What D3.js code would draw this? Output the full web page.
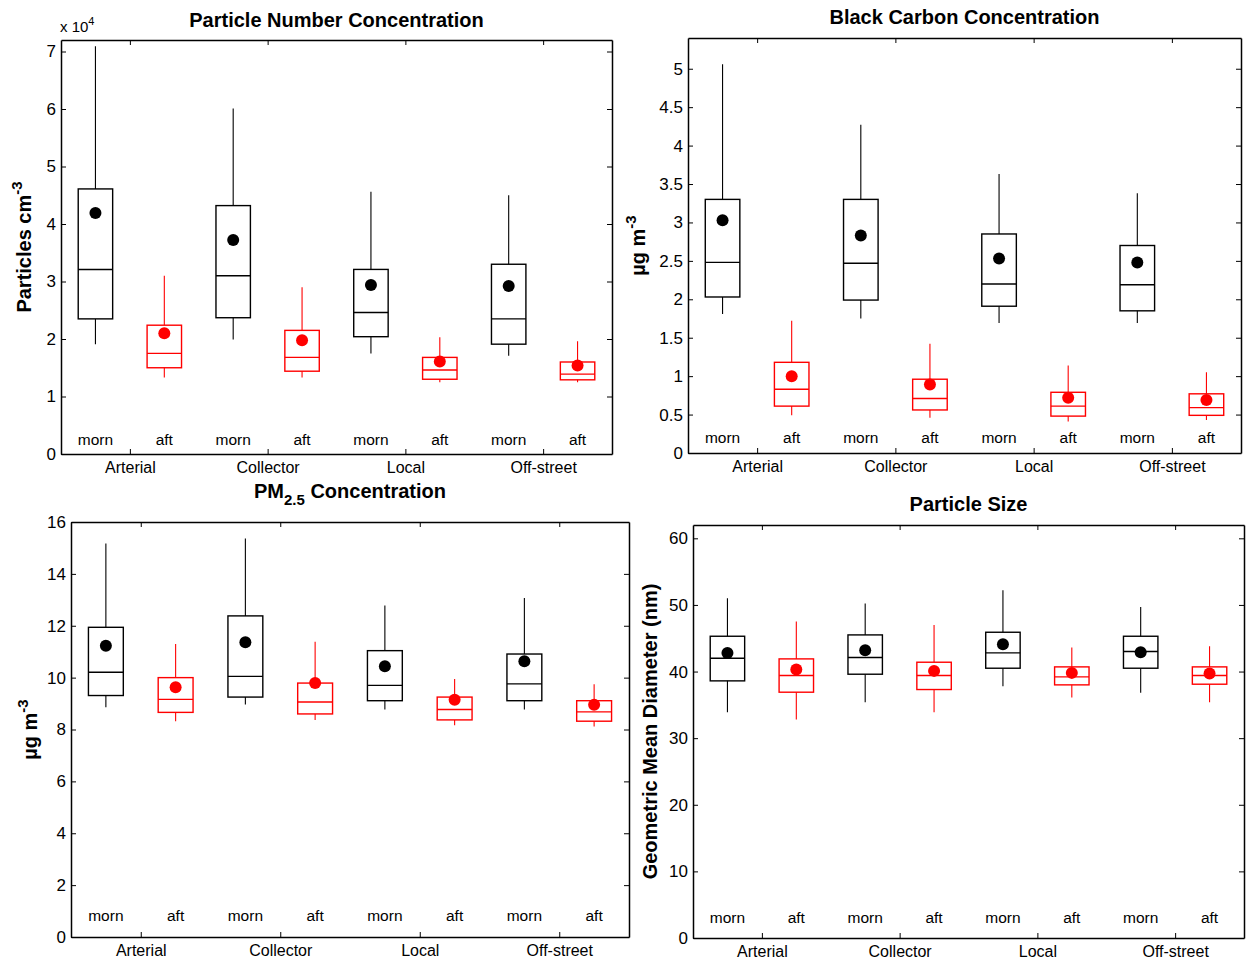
<!DOCTYPE html>
<html>
<head>
<meta charset="utf-8">
<script src="https://cdn.jsdelivr.net/npm/d3@7"></script>
<style>
body { margin: 0; background: #fff; }
svg { display: block; font-family: "Liberation Sans", Arial, sans-serif; }
</style>
</head>
<body>
<svg id="chart" width="1247" height="960"></svg>
<script>
// categories and periods, boxes go morn/aft per category
const categories = ["Arterial", "Collector", "Local", "Off-street"];
const periods = ["morn", "aft"];

// Particle number concentration (x 10^4)
const pncHigh = [7.09, 3.10, 6.01, 2.90, 4.56, 2.03, 4.50, 1.96];
const pncQ3   = [4.61, 2.24, 4.32, 2.15, 3.21, 1.68, 3.30, 1.60];
const pncMed  = [3.21, 1.75, 3.10, 1.68, 2.46, 1.46, 2.35, 1.39];
const pncQ1   = [2.35, 1.50, 2.37, 1.44, 2.04, 1.30, 1.91, 1.29];
const pncLow  = [1.91, 1.33, 1.99, 1.33, 1.75, 1.25, 1.71, 1.25];
const pncMean = [4.19, 2.10, 3.72, 1.98, 2.94, 1.61, 2.92, 1.54];
const pncTicks = [0, 1, 2, 3, 4, 5, 6, 7];

// Black carbon (ug m-3)
const bcHigh = [5.06, 1.72, 4.27, 1.42, 3.63, 1.14, 3.38, 1.05];
const bcQ3   = [3.30, 1.18, 3.30, 0.96, 2.85, 0.79, 2.70, 0.77];
const bcMed  = [2.48, 0.83, 2.47, 0.71, 2.20, 0.61, 2.19, 0.59];
const bcQ1   = [2.03, 0.61, 1.99, 0.56, 1.91, 0.48, 1.85, 0.49];
const bcLow  = [1.81, 0.49, 1.75, 0.46, 1.69, 0.41, 1.69, 0.43];
const bcMean = [3.03, 1.00, 2.83, 0.89, 2.53, 0.72, 2.48, 0.69];
const bcTicks = [0, 0.5, 1, 1.5, 2, 2.5, 3, 3.5, 4, 4.5, 5];

// PM2.5 (ug m-3)
const pmHigh = [15.17, 11.30, 15.36, 11.38, 12.78, 9.95, 13.07, 9.74];
const pmQ3   = [11.94, 10.00, 12.38, 9.79, 11.04, 9.25, 10.91, 9.11];
const pmMed  = [10.21, 9.16, 10.05, 9.06, 9.70, 8.77, 9.76, 8.68];
const pmQ1   = [9.31, 8.66, 9.25, 8.60, 9.11, 8.37, 9.11, 8.32];
const pmLow  = [8.86, 8.32, 8.96, 8.37, 8.77, 8.16, 8.77, 8.12];
const pmMean = [11.23, 9.63, 11.36, 9.79, 10.44, 9.15, 10.63, 8.95];
const pmTicks = [0, 2, 4, 6, 8, 10, 12, 14, 16];

// Particle size, geometric mean diameter (nm)
const gmdHigh = [51.0, 47.5, 50.2, 47.0, 52.2, 43.6, 49.7, 43.8];
const gmdQ3   = [45.3, 41.9, 45.5, 41.4, 45.9, 40.7, 45.3, 40.7];
const gmdMed  = [42.0, 39.4, 42.1, 39.4, 42.8, 39.2, 43.0, 39.4];
const gmdQ1   = [38.6, 36.9, 39.6, 37.3, 40.5, 38.0, 40.5, 38.1];
const gmdLow  = [33.9, 32.8, 35.4, 33.9, 37.8, 36.1, 36.8, 35.4];
const gmdMean = [42.8, 40.3, 43.2, 40.1, 44.1, 39.8, 42.9, 39.7];
const gmdTicks = [0, 10, 20, 30, 40, 50, 60];

const svg = d3.select("#chart");
const colors = { morn: "#000", aft: "#ff0000" };

function drawPanel(p) {
  var x = d3.scaleLinear().domain([0.5, 8.5]).range([p.left, p.right]);
  var y = d3.scaleLinear().domain([0, p.ymax]).range([p.bottom, p.top]);
  var g = svg.append("g");

  var boxes = p.med.map(function (m, i) {
    return {
      pos: i + 1, period: periods[i % 2],
      low: p.low[i], q1: p.q1[i], med: m, q3: p.q3[i], high: p.high[i], mean: p.mean[i]
    };
  });

  var bw = 0.25; // half box width in x units
  var b = g.selectAll(".box").data(boxes).enter().append("g")
    .attr("stroke", function (d) { return colors[d.period]; })
    .attr("fill", "none");
  // whiskers
  b.append("line").attr("x1", d => x(d.pos)).attr("x2", d => x(d.pos))
    .attr("y1", d => y(d.q3)).attr("y2", d => y(d.high)).attr("stroke-width", 1.1);
  b.append("line").attr("x1", d => x(d.pos)).attr("x2", d => x(d.pos))
    .attr("y1", d => y(d.q1)).attr("y2", d => y(d.low)).attr("stroke-width", 1.1);
  // box
  b.append("rect")
    .attr("x", d => x(d.pos - bw)).attr("width", d => x(d.pos + bw) - x(d.pos - bw))
    .attr("y", d => y(d.q3)).attr("height", d => y(d.q1) - y(d.q3))
    .attr("stroke-width", 1.4);
  // median
  b.append("line").attr("x1", d => x(d.pos - bw)).attr("x2", d => x(d.pos + bw))
    .attr("y1", d => y(d.med)).attr("y2", d => y(d.med)).attr("stroke-width", 1.4);
  // mean dot
  b.append("circle").attr("cx", d => x(d.pos)).attr("cy", d => y(d.mean)).attr("r", 6)
    .attr("stroke", "none").attr("fill", d => colors[d.period]);

  // morn / aft labels inside the plot
  g.selectAll(".per").data(boxes).enter().append("text")
    .attr("x", d => x(d.pos)).attr("y", p.bottom - p.perOff)
    .attr("text-anchor", "middle").attr("dominant-baseline", "central")
    .style("font-size", "15.5px").text(d => d.period);

  // axes with inward ticks on all sides
  var catPos = [1.5, 3.5, 5.5, 7.5];
  var left = g.append("g").attr("transform", "translate(" + p.left + ",0)")
    .call(d3.axisLeft(y).tickValues(p.ticks).tickSizeInner(-5).tickSizeOuter(0).tickPadding(5)
      .tickFormat(d => String(d)));
  g.append("g").attr("transform", "translate(" + p.right + ",0)")
    .call(d3.axisRight(y).tickValues(p.ticks).tickSizeInner(-5).tickSizeOuter(0).tickFormat(""));
  var bottom = g.append("g").attr("transform", "translate(0," + p.bottom + ")")
    .call(d3.axisBottom(x).tickValues(catPos).tickSizeInner(-5).tickSizeOuter(0).tickPadding(8)
      .tickFormat(function (d, i) { return categories[i]; }));
  g.append("g").attr("transform", "translate(0," + p.top + ")")
    .call(d3.axisTop(x).tickValues(catPos).tickSizeInner(-5).tickSizeOuter(0).tickFormat(""));

  g.selectAll(".domain").attr("stroke", "#000").attr("stroke-width", 1.5);
  g.selectAll(".tick line").attr("stroke", "#000").attr("stroke-width", 1);
  left.selectAll("text").style("font-size", "17px").attr("fill", "#000")
    .attr("font-family", "Liberation Sans, Arial, sans-serif");
  bottom.selectAll("text").style("font-size", "16px").attr("fill", "#000")
    .attr("font-family", "Liberation Sans, Arial, sans-serif");

  // title
  var t = svg.append("text").attr("x", (p.left + p.right) / 2).attr("y", p.titleY)
    .attr("text-anchor", "middle").style("font-size", "20px").style("font-weight", "bold");
  p.title.forEach(function (part) {
    var ts = t.append("tspan").text(part.s);
    if (part.sub) ts.attr("dy", 7).style("font-size", "15px");
    if (part.back) ts.attr("dy", -7);
  });

  // y label, rotated
  var yl = svg.append("text")
    .attr("transform", "translate(" + p.ylabX + "," + ((p.top + p.bottom) / 2) + ") rotate(-90)")
    .attr("text-anchor", "middle").style("font-size", "20px").style("font-weight", "bold");
  yl.append("tspan").text(p.ylabel);
  if (p.ysup) yl.append("tspan").attr("dy", -9).style("font-size", "15px").text(p.ysup);
}

drawPanel({
  left: 61, right: 612, top: 40, bottom: 454, ymax: 7.2, ticks: pncTicks,
  high: pncHigh, q3: pncQ3, med: pncMed, q1: pncQ1, low: pncLow, mean: pncMean,
  perOff: 15, titleY: 27, ylabX: 31,
  title: [{ s: "Particle Number Concentration" }], ylabel: "Particles cm", ysup: "-3"
});
drawPanel({
  left: 688, right: 1241, top: 38, bottom: 453, ymax: 5.4, ticks: bcTicks,
  high: bcHigh, q3: bcQ3, med: bcMed, q1: bcQ1, low: bcLow, mean: bcMean,
  perOff: 16, titleY: 24, ylabX: 645,
  title: [{ s: "Black Carbon Concentration" }], ylabel: "\u00b5g m", ysup: "-3"
});
drawPanel({
  left: 71, right: 629, top: 522, bottom: 937, ymax: 16, ticks: pmTicks,
  high: pmHigh, q3: pmQ3, med: pmMed, q1: pmQ1, low: pmLow, mean: pmMean,
  perOff: 22, titleY: 498, ylabX: 37,
  title: [{ s: "PM" }, { s: "2.5", sub: true }, { s: " Concentration", back: true }],
  ylabel: "\u00b5g m", ysup: "-3"
});
drawPanel({
  left: 693, right: 1244, top: 525, bottom: 938, ymax: 62, ticks: gmdTicks,
  high: gmdHigh, q3: gmdQ3, med: gmdMed, q1: gmdQ1, low: gmdLow, mean: gmdMean,
  perOff: 21, titleY: 511, ylabX: 657,
  title: [{ s: "Particle Size" }], ylabel: "Geometric Mean Diameter (nm)"
});

// exponent label of the first panel
var ex = svg.append("text").attr("x", 60).attr("y", 32).style("font-size", "15px");
ex.append("tspan").text("x 10");
ex.append("tspan").attr("dy", -7).style("font-size", "11px").text("4");
</script>
</body>
</html>
